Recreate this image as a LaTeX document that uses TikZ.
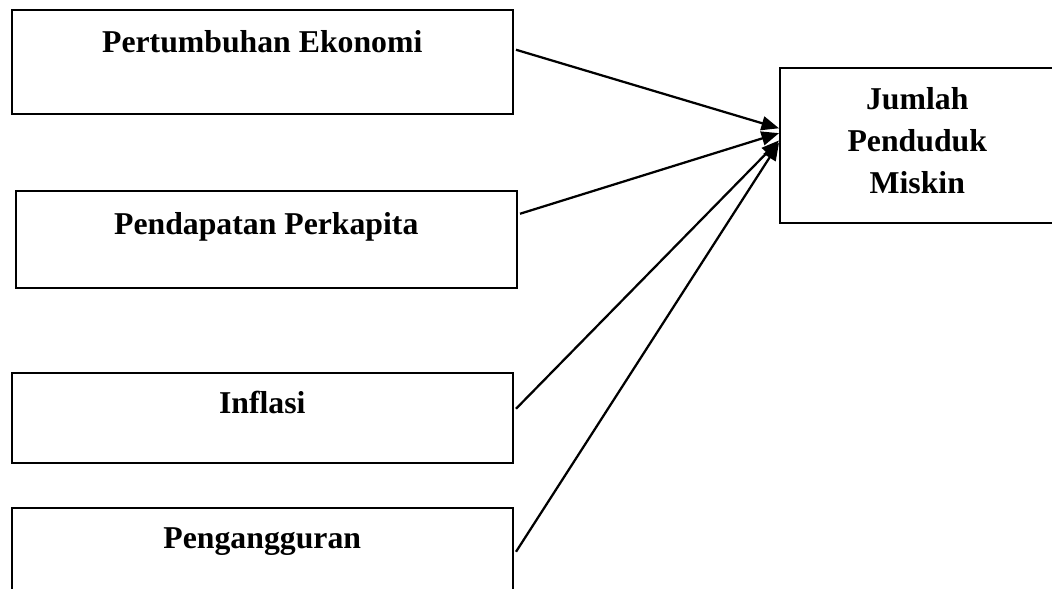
\documentclass[tikz,border=0pt]{standalone}
\usepackage{fontspec}
\setmainfont{Liberation Serif}
\usetikzlibrary{arrows.meta}
\begin{document}
\begin{tikzpicture}[x=0.4pt,y=-0.4pt,
        kotak/.style={draw, line width=0.6pt, anchor=north west, inner sep=0pt,
            minimum width=200.4pt, font=\bfseries\fontsize{12.7}{16.8}\selectfont},
        panah/.style={line width=0.9pt, -{Triangle[length=7pt,width=5.6pt]}}]
        \useasboundingbox (0,0) rectangle (1052,588);
        \clip (0,0) rectangle (1052,588);

        \node[kotak, text height=17.2pt, text depth=24.4pt] (ekonomi) at (11,9) {Pertumbuhan Ekonomi};
        \node[kotak, text height=17.6pt, text depth=21.2pt] (pendapatan) at (15,190) {Pendapatan Perkapita};
        \node[kotak, text height=16.4pt, text depth=19.6pt] (inflasi) at (11,372) {Inflasi};
        \node[kotak, text height=16.4pt, text depth=18.8pt] (pengangguran) at (11,507) {Pengangguran};

        \node[kotak, minimum width=110pt, text height=50.4pt, text depth=11.6pt, align=center] (miskin) at (779,67) {Jumlah\\Penduduk\\Miskin};

        \draw[panah] ([xshift=1pt,yshift=4.8pt]ekonomi.east) -- (miskin.173);
        \draw[panah] ([xshift=1pt,yshift=10.2pt]pendapatan.east) -- (miskin.175);
        \draw[panah] ([xshift=1pt,yshift=3.6pt]inflasi.east) -- (miskin.178);
        \draw[panah] ([xshift=1pt,yshift=0pt]pengangguran.east) -- (miskin.179);
    \end{tikzpicture}
\end{document}
